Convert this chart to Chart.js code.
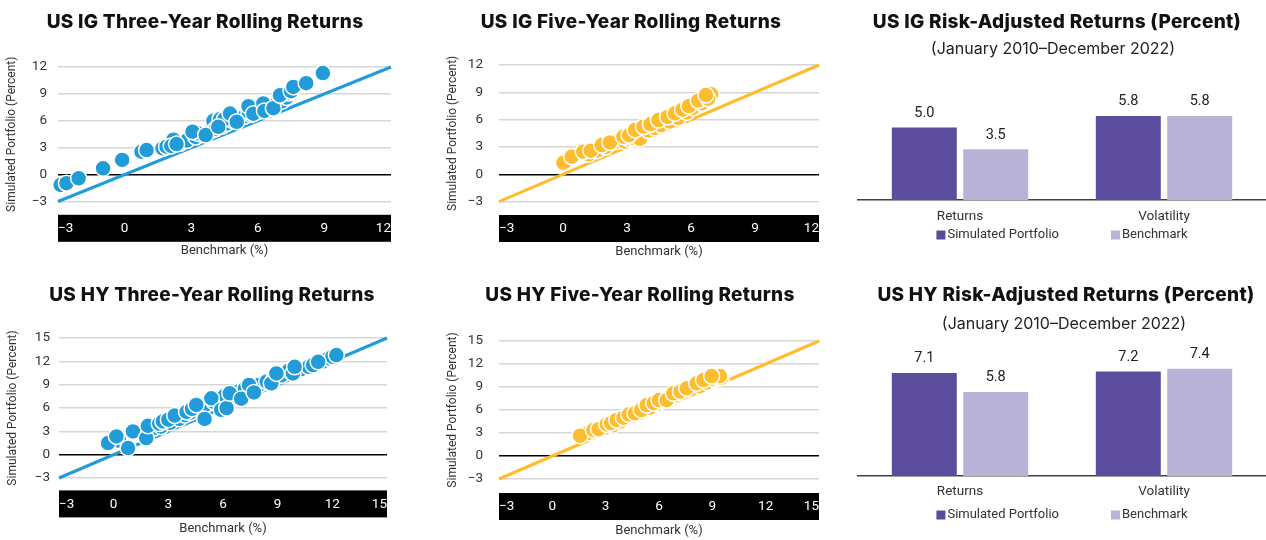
<!DOCTYPE html>
<html>
<head>
<meta charset="utf-8">
<script src="https://cdn.jsdelivr.net/npm/chart.js@4.4.0/dist/chart.umd.min.js"></script>
<style>
  body { margin: 0; background: #fff; width: 1266px; height: 540px; position: relative; overflow: hidden; font-family: Roboto, sans-serif; }
  .panel { position: absolute; }
  .title { position: absolute; width: 420px; text-align: center; font-family: Inter, sans-serif; font-weight: 800; font-size: 19px; line-height: 24px; color: #111; white-space: nowrap; letter-spacing: 0.3px; }
  .sub { position: absolute; width: 400px; text-align: center; font-family: Inter, sans-serif; font-size: 16px; line-height: 20px; color: #222; white-space: nowrap; }
</style>
</head>
<body>
<div class="panel" style="left:0;top:0;width:420px;height:270px"><canvas id="igThree"></canvas></div>
<div class="panel" style="left:420px;top:0;width:420px;height:270px"><canvas id="igFive"></canvas></div>
<div class="panel" style="left:840px;top:0;width:426px;height:270px"><canvas id="igRisk"></canvas></div>
<div class="panel" style="left:0;top:270px;width:420px;height:270px"><canvas id="hyThree"></canvas></div>
<div class="panel" style="left:420px;top:270px;width:420px;height:270px"><canvas id="hyFive"></canvas></div>
<div class="panel" style="left:840px;top:270px;width:426px;height:270px"><canvas id="hyRisk"></canvas></div>

<div class="title" style="left:-5px;top:10px">US IG Three-Year Rolling Returns</div>
<div class="title" style="left:421px;top:10px">US IG Five-Year Rolling Returns</div>
<div class="title" style="left:847px;top:10px">US IG Risk-Adjusted Returns (Percent)</div>
<div class="sub" style="left:853px;top:38px">(January 2010–December 2022)</div>
<div class="title" style="left:2px;top:283px">US HY Three-Year Rolling Returns</div>
<div class="title" style="left:430px;top:283px">US HY Five-Year Rolling Returns</div>
<div class="title" style="left:856px;top:283px">US HY Risk-Adjusted Returns (Percent)</div>
<div class="sub" style="left:864px;top:313px">(January 2010–December 2022)</div>

<script>
// axis ranges (also the ends of the 45-degree line)
const igRange = [-3, 12];
const hyRange = [-3, 15];

// US IG three-year rolling returns: benchmark % vs simulated portfolio %
const igThreeBench = [2.5, 2.8, 3.2, 3.5, 3.9, 4.0, 4.1, 4.3, 4.4, 4.6, 4.9, 5.2, 5.4, 5.7, 6.0, 6.1, 6.5, 6.8, 7.1, 7.3, 2.2, 3.3, 4.5, 5.6, 6.2, 7.4,
  -2.88, -2.62, -2.07, -0.97, -0.11, 0.76, 0.99, 1.71, 1.89, 2.1, 2.34, 3.06, 3.65, 4.22, 4.75, 5.05, 5.58, 5.8, 6.25, 6.3, 6.7, 7.0, 7.5, 7.6, 8.18, 8.93];
const igThreeSim = [3.5, 3.8, 4.2, 4.5, 4.9, 6.0, 5.1, 6.2, 5.4, 5.7, 6.0, 6.3, 6.5, 6.7, 7.0, 7.3, 7.6, 7.8, 8.2, 8.6, 3.9, 4.6, 6.2, 7.0, 8.0, 9.1,
  -1.15, -0.96, -0.41, 0.70, 1.63, 2.56, 2.74, 2.93, 3.11, 3.2, 3.4, 4.78, 4.41, 5.33, 6.81, 5.89, 7.63, 6.8, 7.93, 7.1, 7.4, 8.85, 9.3, 9.78, 10.2, 11.33];

// US IG five-year rolling returns
const igFiveBench = [1.2, 1.6, 2.0, 2.5, 2.9, 3.1, 3.3, 3.5, 3.6, 4.0, 4.3, 4.6, 5.0, 5.4, 5.8, 6.1, 6.5, 6.9, 6.95,
  0.02, 0.41, 0.95, 1.3, 1.81, 2.2, 2.83, 3.1, 3.38, 3.77, 4.1, 4.47, 4.9, 5.25, 5.6, 5.9, 6.34, 6.8, 6.7];
const igFiveSim = [2.2, 2.6, 3.0, 3.6, 3.6, 3.9, 4.0, 4.4, 3.9, 4.8, 5.1, 5.4, 5.8, 6.2, 6.8, 7.3, 7.8, 8.5, 8.8,
  1.28, 1.94, 2.49, 2.6, 3.22, 3.5, 4.13, 4.3, 4.87, 5.23, 5.5, 5.96, 6.3, 6.7, 7.1, 7.5, 8.1, 8.3, 8.7];

// US HY three-year rolling returns
const hyThreeBench = [0.3, 2.2, 2.6, 3.1, 3.6, 3.9, 4.2, 4.8, 5.1, 5.5, 5.8, 6.1, 6.6, 6.9, 7.2, 7.6, 8.0, 8.4, 8.8, 9.2, 9.6, 10.3, 10.7, 11.5, 11.8, 12.0,
  -0.31, 0.15, 0.79, 1.06, 1.79, 1.88, 2.5, 2.7, 3.0, 3.35, 4.0, 4.3, 4.53, 4.99, 5.36, 5.9, 6.2, 6.37, 7.0, 7.43, 7.7, 8.65, 8.93, 9.84, 9.93, 10.94, 11.22, 12.22];
const hyThreeSim = [1.8, 3.4, 3.6, 4.1, 4.6, 5.1, 5.4, 5.9, 6.5, 6.8, 7.3, 7.6, 7.4, 8.2, 8.5, 8.6, 9.0, 9.4, 9.8, 10.2, 10.8, 11.0, 11.3, 12.0, 12.4, 12.6,
  1.49, 2.35, 0.85, 2.99, 2.13, 3.71, 4.0, 4.27, 4.5, 5.03, 5.5, 5.9, 6.4, 4.6, 7.25, 5.76, 6.0, 7.89, 7.2, 8.96, 8.0, 9.17, 10.45, 10.45, 11.3, 11.52, 11.94, 12.8];

// US HY five-year rolling returns
const hyFiveBench = [2.0, 2.5, 3.4, 3.8, 4.2, 4.5, 4.9, 5.2, 5.5, 5.9, 6.2, 6.6, 6.9, 7.3, 7.8, 8.3, 8.7, 9.1, 9.3,
  1.56, 2.31, 2.6, 3.06, 3.3, 3.62, 4.0, 4.3, 4.65, 5.0, 5.31, 5.7, 6.0, 6.43, 6.81, 7.2, 7.56, 8.12, 8.5, 9.5, 9.43, 8.96];
const hyFiveSim = [3.0, 3.3, 4.0, 4.5, 5.0, 5.3, 5.6, 6.0, 6.3, 6.8, 7.2, 7.6, 7.9, 8.2, 8.7, 9.1, 9.6, 10.0, 10.2,
  2.65, 3.39, 3.5, 4.13, 4.3, 4.7, 5.0, 5.4, 5.57, 6.0, 6.65, 6.9, 7.3, 7.3, 8.17, 8.4, 8.83, 9.48, 9.9, 10.2, 10.43, 10.43];

// risk-adjusted returns (percent), January 2010 - December 2022
const riskCategories = ['Returns', 'Volatility'];
const igSimulated = [5.0, 5.8];
const igBenchmark = [3.5, 5.8];
const hySimulated = [7.1, 7.2];
const hyBenchmark = [5.8, 7.4];

const blue = '#229cd8';
const yellow = '#fdbd2e';
const darkPurple = '#5b4c9d';
const lightPurple = '#b9b3d8';
const txt = '#333';

function pairs(xs, ys) {
  return xs.map((x, i) => ({ x: x, y: ys[i] }));
}

function minus(v) {
  return v < 0 ? '\u2212' + Math.abs(v) : String(v);
}

// black strip behind the x tick labels
const axisBand = {
  id: 'axisBand',
  beforeDraw(chart, args, opts) {
    const x = chart.scales.x, area = chart.chartArea, ctx = chart.ctx;
    ctx.save();
    ctx.fillStyle = '#000';
    ctx.fillRect(x.left, area.bottom + opts.gap, x.right - x.left, opts.height);
    ctx.restore();
  }
};

// value labels above bars
const barValues = {
  id: 'barValues',
  afterDatasetsDraw(chart) {
    const ctx = chart.ctx;
    ctx.save();
    ctx.font = '14.5px Roboto';
    ctx.fillStyle = '#222';
    ctx.textAlign = 'center';
    ctx.textBaseline = 'bottom';
    chart.data.datasets.forEach((ds, i) => {
      chart.getDatasetMeta(i).data.forEach((bar, j) => {
        ctx.fillText(ds.data[j].toFixed(1), bar.x, bar.y - 7);
      });
    });
    ctx.restore();
  }
};

// legend row with wide spacing under the category labels
const legendRow = {
  id: 'legendRow',
  afterDraw(chart, args, opts) {
    const ctx = chart.ctx, area = chart.chartArea;
    const items = chart.data.datasets;
    const box = 9, gap = 2, space = 52;
    ctx.save();
    ctx.font = '13px Roboto';
    const widths = items.map(d => box + gap + ctx.measureText(d.label).width);
    const total = widths.reduce((a, b) => a + b, 0) + space * (items.length - 1);
    let x = (area.left + area.right) / 2 - total / 2;
    const y = area.bottom + opts.offset;
    ctx.textBaseline = 'middle';
    ctx.textAlign = 'left';
    items.forEach((d, i) => {
      ctx.fillStyle = d.backgroundColor;
      ctx.fillRect(x, y - box / 2, box, box);
      ctx.fillStyle = txt;
      ctx.fillText(d.label, x + box + gap, y);
      x += widths[i] + space;
    });
    ctx.restore();
  }
};

function scatterChart(id, xs, ys, range, color, lay) {
  return new Chart(document.getElementById(id), {
    type: 'scatter',
    data: {
      datasets: [
        {
          data: pairs(xs, ys),
          backgroundColor: color,
          borderColor: '#fff',
          borderWidth: 1.5,
          pointRadius: 8,
          pointHoverRadius: 8,
          clip: false
        },
        {
          data: pairs(range, range),
          showLine: true,
          borderColor: color,
          borderWidth: 3,
          pointRadius: 0,
          clip: false
        }
      ]
    },
    options: {
      responsive: true,
      maintainAspectRatio: false,
      animation: false,
      events: [],
      layout: { padding: { left: 0, right: lay.right, top: lay.top, bottom: lay.bottom } },
      plugins: {
        legend: { display: false },
        tooltip: { enabled: false },
        axisBand: { gap: lay.gap, height: 27 }
      },
      scales: {
        x: {
          type: 'linear',
          min: range[0],
          max: range[1],
          ticks: { stepSize: 3, color: '#fff', padding: lay.xPad, align: 'inner', font: { family: 'Roboto', size: 13.5 }, callback: minus },
          grid: { display: false, drawTicks: false },
          border: { display: false },
          title: { display: true, text: 'Benchmark (%)', color: txt, padding: 0, font: { family: 'Roboto', size: 13 } },
          afterFit: s => { s.height = lay.xH; }
        },
        y: {
          min: range[0],
          max: range[1],
          ticks: { stepSize: 3, color: txt, padding: lay.yPad, font: { family: 'Roboto', size: 13.5 }, callback: minus },
          grid: { color: c => c.tick.value === 0 ? '#000' : '#d6d6d6', lineWidth: 1.5, drawTicks: false },
          border: { display: false },
          title: { display: true, text: 'Simulated Portfolio (Percent)', color: txt, padding: { top: lay.yTitle, bottom: 0 }, font: { family: 'Roboto', size: 12 } },
          afterFit: s => { s.width = lay.left; }
        }
      }
    },
    plugins: [axisBand]
  });
}

function riskChart(id, sim, bench, lay) {
  return new Chart(document.getElementById(id), {
    type: 'bar',
    data: {
      labels: riskCategories,
      datasets: [
        { label: 'Simulated Portfolio', data: sim, backgroundColor: darkPurple },
        { label: 'Benchmark', data: bench, backgroundColor: lightPurple }
      ]
    },
    options: {
      responsive: true,
      maintainAspectRatio: false,
      animation: false,
      events: [],
      layout: { padding: { left: 9, right: 0, top: lay.top, bottom: lay.bottom } },
      datasets: { bar: { categoryPercentage: 0.7, barPercentage: 0.91 } },
      plugins: {
        legend: { display: false },
        tooltip: { enabled: false },
        legendRow: { offset: lay.legend }
      },
      scales: {
        x: {
          grid: { display: false, drawTicks: false },
          border: { display: true, color: '#404040', width: 1.5 },
          ticks: { color: txt, padding: lay.xPad, font: { family: 'Roboto', size: 13.5 } },
          afterFit: s => { s.height = 26; }
        },
        y: {
          min: 0,
          max: 8,
          ticks: { display: false },
          grid: { display: false, drawTicks: false },
          border: { display: false },
          afterFit: s => { s.width = 9; }
        }
      }
    },
    plugins: [barValues, legendRow]
  });
}

scatterChart('igThree', igThreeBench, igThreeSim, igRange, blue,
  { left: 58, right: 29, top: 67, bottom: 11, xH: 57.5, gap: 13.3, xPad: 19, yPad: 11, yTitle: 4.5 });
scatterChart('igFive', igFiveBench, igFiveSim, igRange, yellow,
  { left: 79, right: 21, top: 65, bottom: 10, xH: 58.3, gap: 13.3, xPad: 19, yPad: 16, yTitle: 26 });
scatterChart('hyThree', hyThreeBench, hyThreeSim, hyRange, blue,
  { left: 59, right: 33, top: 68, bottom: 3, xH: 59, gap: 12.4, xPad: 19, yPad: 9, yTitle: 6 });
scatterChart('hyFive', hyFiveBench, hyFiveSim, hyRange, yellow,
  { left: 79, right: 21, top: 71, bottom: 1, xH: 60, gap: 14, xPad: 19.7, yPad: 16, yTitle: 26 });

riskChart('igRisk', igSimulated, igBenchmark, { top: 84, bottom: 44, xPad: 9, legend: 35 });
riskChart('hyRisk', hySimulated, hyBenchmark, { top: 90, bottom: 38, xPad: 8, legend: 39 });
</script>
</body>
</html>
